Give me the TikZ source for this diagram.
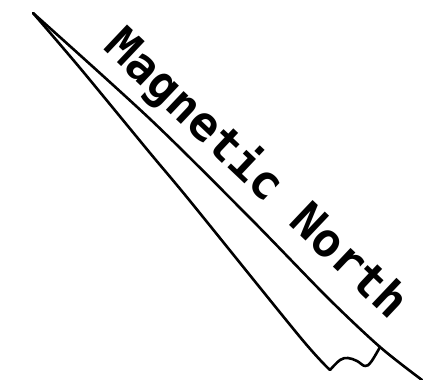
\documentclass[tikz,border=0pt]{standalone}
\usepackage{fontspec}
\newfontfamily\handfont{DejaVu Sans Mono}
\begin{document}
\begin{tikzpicture}[x=1pt,y=-1pt,
  pen/.style={line width=2.6pt, line cap=round, line join=round, black},
  hand/.style={font=\handfont\bfseries\fontsize{47}{47}\selectfont, inner sep=0pt}]
\useasboundingbox (0,0) rectangle (423,380);
% arrow outline
\coordinate (tip) at (33,13);
\coordinate (rend) at (422,380);
\coordinate (lend) at (330,370);
\coordinate (join) at (380,347);
\draw[pen] plot[smooth, tension=0.5] coordinates {(tip) (150,119) (250,218) (328,298) (join) (rend)};
\draw[pen] plot[smooth, tension=0.5] coordinates {(tip) (80,68) (150,153) (190,201) (300,337) (lend)};
\draw[pen] plot[smooth, tension=0.6] coordinates {(lend) (340,360) (348,358) (357,361) (365,366) (371,362) (join)};
% label
\node[hand, anchor=base, rotate=-43.4] (label) at (246,185) {Magnetic North};
\end{tikzpicture}
\end{document}
